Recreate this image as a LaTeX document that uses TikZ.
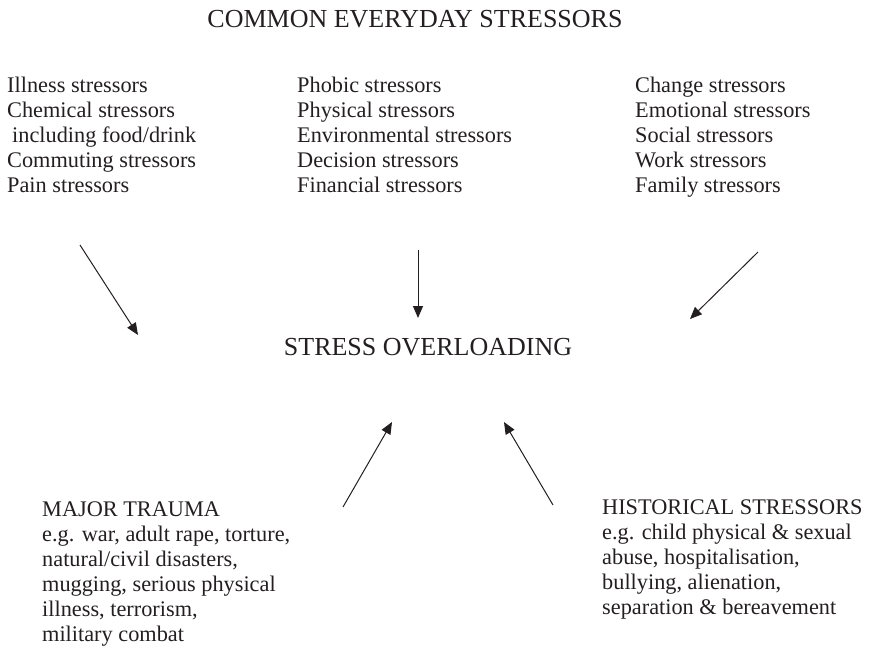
\documentclass[tikz,border=0pt]{standalone}
\usepackage{fontspec}
\setmainfont{Liberation Serif}
\usetikzlibrary{arrows.meta}
\definecolor{ink}{HTML}{231F20}
\tikzset{
    heading/.style={font=\fontsize{26}{30}\selectfont, text=ink, inner sep=0pt, anchor=base},
    stressors/.style={font=\fontsize{22.3}{25}\selectfont, text=ink, align=left, anchor=north west, inner sep=0pt},
    feeds/.style={-{Triangle[length=12pt, width=10pt]}, draw=ink, line width=1pt},
}

\begin{document}
\begin{tikzpicture}[x=1pt, y=-1pt]
    \useasboundingbox (0,0) rectangle (873,649);

    \node[heading] (everyday) at (415,27) {COMMON EVERYDAY STRESSORS};

    \node[stressors] (illness) at (7,76.5) {Illness stressors\\Chemical stressors\\\hspace*{5pt}including food/drink\\Commuting stressors\\Pain stressors};
    \node[stressors] (phobic) at (297,76.5) {Phobic stressors\\Physical stressors\\Environmental stressors\\Decision stressors\\Financial stressors};
    \node[stressors] (change) at (635,76.5) {Change stressors\\Emotional stressors\\Social stressors\\Work stressors\\Family stressors};

    \node[heading] (overload) at (428,355) {STRESS OVERLOADING};

    \node[stressors] (trauma) at (42,502) {MAJOR TRAUMA\\e.g. war, adult rape, torture,\\natural/civil disasters,\\mugging, serious physical\\illness, terrorism,\\military combat};
    \node[stressors] (historical) at (602,500) {HISTORICAL STRESSORS\\e.g. child physical \& sexual\\abuse, hospitalisation,\\bullying, alienation,\\separation \& bereavement};

    % arrows into the overload
    \coordinate (illness end) at (80,245);
    \coordinate (illness tip) at (138,335);
    \coordinate (phobic end) at (418,250);
    \coordinate (phobic tip) at (418,318);
    \coordinate (change end) at (758,252);
    \coordinate (change tip) at (690,319);
    \coordinate (trauma end) at (343,507);
    \coordinate (trauma tip) at (392,422);
    \coordinate (historical end) at (553,505);
    \coordinate (historical tip) at (504,422);

    \draw[feeds] (illness end) -- (illness tip);
    \draw[feeds] (phobic end) -- (phobic tip);
    \draw[feeds] (change end) -- (change tip);
    \draw[feeds] (trauma end) -- (trauma tip);
    \draw[feeds] (historical end) -- (historical tip);

\end{tikzpicture}
\end{document}
